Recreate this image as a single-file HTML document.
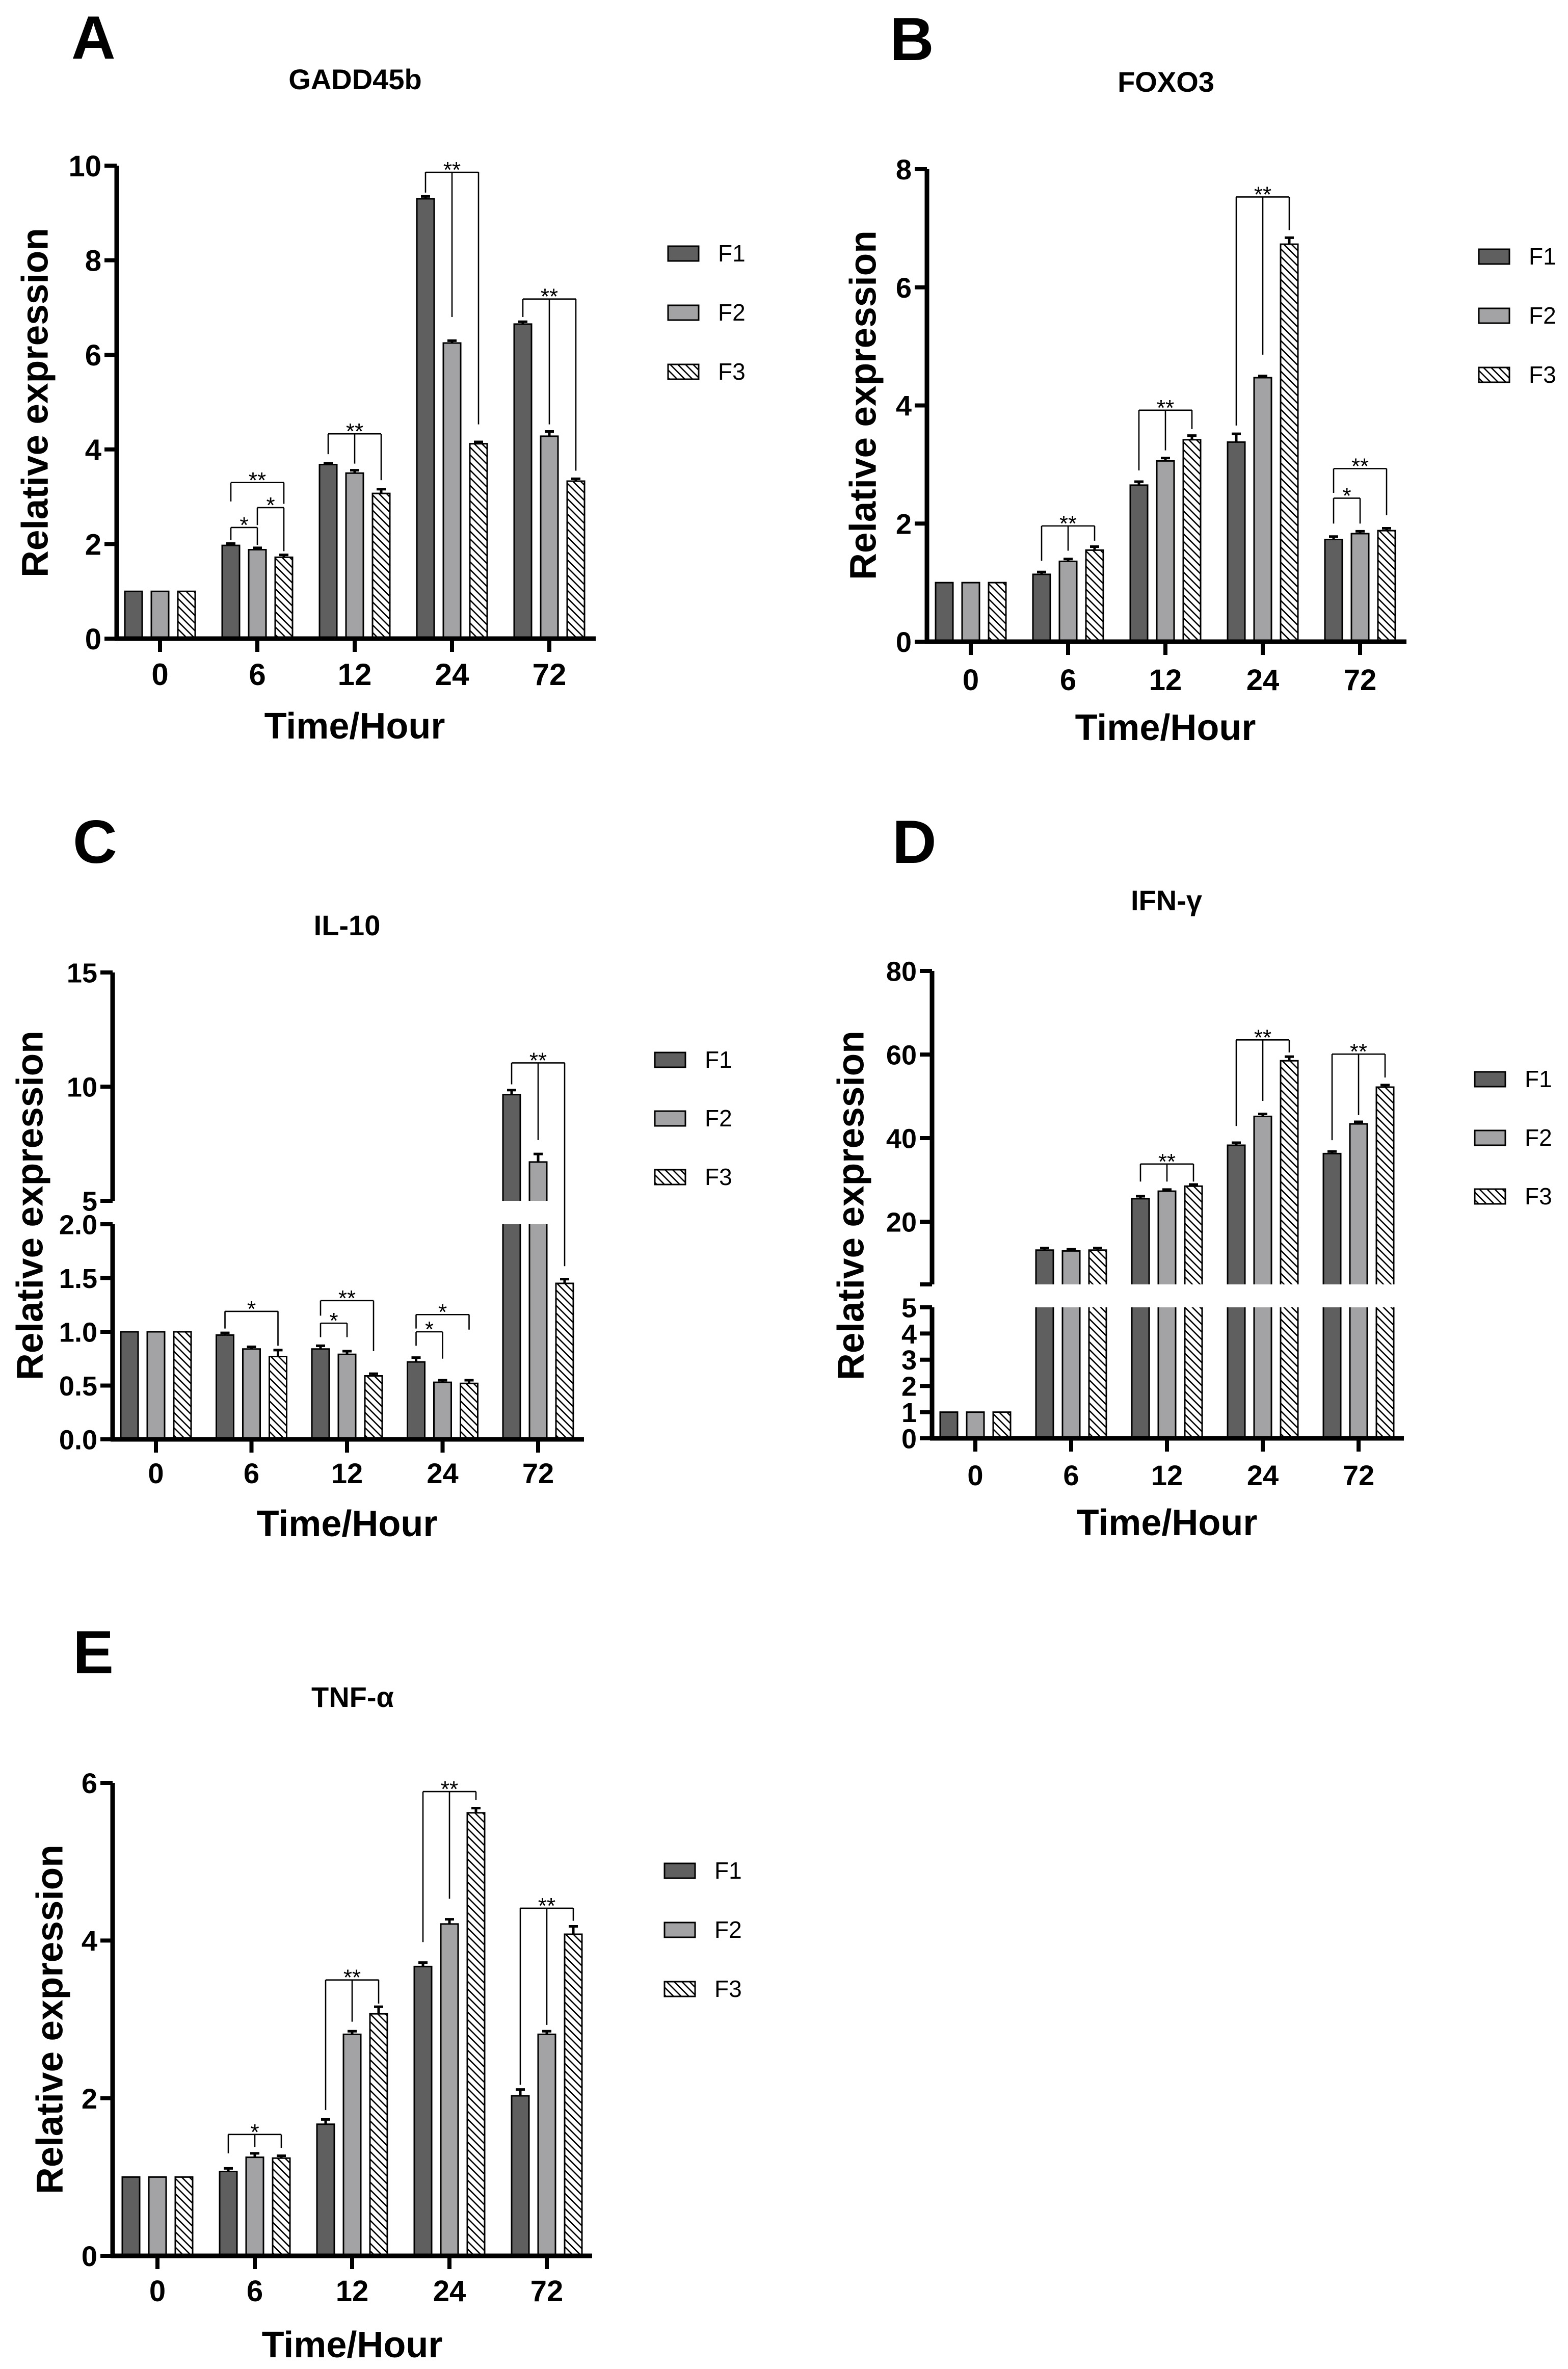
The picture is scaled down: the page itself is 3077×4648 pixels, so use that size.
<!DOCTYPE html>
<html><head><meta charset="utf-8"><style>
html,body{margin:0;padding:0;background:#fff;}
svg{display:block;font-family:"Liberation Sans",Arial,sans-serif;}
</style></head><body>
<svg id="fig" width="3077" height="4648" viewBox="0 0 3077 4648" xmlns="http://www.w3.org/2000/svg">
<defs>
<pattern id="hatch" patternUnits="userSpaceOnUse" width="15" height="15">
<path d="M0,0 L15,15 M-7.5,7.5 L7.5,22.5 M7.5,-7.5 L22.5,7.5" stroke="#000" stroke-width="2.6"/>
</pattern>
</defs>
</svg>
<script>
const cats = ['0','6','12','24','72'];
const series = ['F1','F2','F3'];
// Panel A GADD45b
const aF1 = [1, 1.97, 3.68, 9.30, 6.65];
const aF2 = [1, 1.88, 3.50, 6.25, 4.28];
const aF3 = [1, 1.72, 3.07, 4.12, 3.33];
const aErr1 = [0, 0.04, 0.03, 0.05, 0.05];
const aErr2 = [0, 0.04, 0.06, 0.05, 0.10];
const aErr3 = [0, 0.05, 0.09, 0.04, 0.05];
const aTicks = [0, 2, 4, 6, 8, 10];
// Panel B FOXO3
const bF1 = [1, 1.14, 2.65, 3.38, 1.73];
const bF2 = [1, 1.36, 3.06, 4.47, 1.83];
const bF3 = [1, 1.55, 3.42, 6.73, 1.88];
const bErr1 = [0, 0.04, 0.06, 0.14, 0.05];
const bErr2 = [0, 0.04, 0.05, 0.03, 0.04];
const bErr3 = [0, 0.06, 0.07, 0.11, 0.04];
const bTicks = [0, 2, 4, 6, 8];
// Panel C IL-10
const cF1 = [1, 0.97, 0.84, 0.72, 9.65];
const cF2 = [1, 0.84, 0.79, 0.53, 6.70];
const cF3 = [1, 0.77, 0.59, 0.52, 1.45];
const cErr1 = [0, 0.02, 0.03, 0.04, 0.2];
const cErr2 = [0, 0.02, 0.03, 0.02, 0.35];
const cErr3 = [0, 0.06, 0.02, 0.03, 0.04];
const cLowTicks = [0, 0.5, 1, 1.5, 2];
const cLowLabels = ['0.0','0.5','1.0','1.5','2.0'];
const cUpTicks = [5, 10, 15];
// Panel D IFN-γ
const dF1 = [1, 13.2, 25.5, 38.3, 36.3];
const dF2 = [1, 13.0, 27.3, 45.2, 43.4];
const dF3 = [1, 13.2, 28.5, 58.5, 52.2];
const dErr1 = [0, 0.5, 0.6, 0.6, 0.5];
const dErr2 = [0, 0.4, 0.4, 0.6, 0.5];
const dErr3 = [0, 0.5, 0.4, 1.0, 0.5];
const dLowTicks = [0, 1, 2, 3, 4, 5];
const dUpTicks = [20, 40, 60, 80];
// Panel E TNF-α
const eF1 = [1, 1.07, 1.67, 3.67, 2.03];
const eF2 = [1, 1.25, 2.81, 4.21, 2.81];
const eF3 = [1, 1.24, 3.07, 5.62, 4.08];
const eErr1 = [0, 0.04, 0.06, 0.05, 0.08];
const eErr2 = [0, 0.05, 0.04, 0.06, 0.04];
const eErr3 = [0, 0.03, 0.09, 0.06, 0.10];
const eTicks = [0, 2, 4, 6];
// significance brackets: [category, lineValue, label, legs [[series, bottomValue]...]]
const aSig = [[1,3.3,'**',[[0,2.9],[2,2.85]]],[1,2.35,'*',[[0,2.08],[1,1.98]]],[1,2.77,'*',[[1,2.4],[2,1.85]]],[2,4.33,'**',[[0,3.9],[1,3.7],[2,3.35]]],[3,9.86,'**',[[0,9.43],[1,6.8],[2,4.53]]],[4,7.18,'**',[[0,6.8],[1,4.53],[2,3.55]]]];
const bSig = [[1,1.96,'**',[[0,1.37],[1,1.54],[2,1.71]]],[2,3.92,'**',[[0,2.9],[1,3.24],[2,3.6]]],[3,7.53,'**',[[0,3.66],[1,4.86],[2,6.97]]],[4,2.93,'**',[[0,2.52],[2,2.14]]],[4,2.43,'*',[[0,2.0],[1,2.0]]]];
const cSig = [[1,1.19,'*',[[0,1.03],[2,0.87]]],[2,1.29,'**',[[0,1.15],[2,0.82]]],[2,1.08,'*',[[0,0.95],[1,0.95]]],[3,1.16,'*',[[0,1.03],[2,1.02]]],[3,1.0,'*',[[0,0.87],[1,0.75]]],[4,11.04,'**',[[0,10.1],[1,7.66],[2,1.61]]]];
const dSig = [[2,33.8,'**',[[0,29.6],[1,29.6],[2,29.6]]],[3,63.5,'**',[[0,42.9],[1,48.9],[2,60.5]]],[4,60.1,'**',[[0,39.5],[1,45.5],[2,54.5]]]];
const eSig = [[1,1.54,'*',[[0,1.3],[1,1.38],[2,1.37]]],[2,3.5,'**',[[0,1.85],[1,2.97],[2,3.2]]],[3,5.89,'**',[[0,3.98],[1,4.53],[2,5.78]]],[4,4.41,'**',[[0,2.17],[1,2.93],[2,4.25]]]];

const NS = 'http://www.w3.org/2000/svg';
const svg = document.getElementById('fig');
function mk(tag, attrs, parent, txt){
  const e = document.createElementNS(NS, tag);
  for (const k in attrs) e.setAttribute(k, attrs[k]);
  if (txt !== undefined) e.textContent = txt;
  parent.appendChild(e);
  return e;
}
const fills = ['#5f5f5f', '#a3a3a6', 'url(#hatch)'];

function drawPanel(c){
  const g = mk('g', {}, svg);
  
  
  const y = c.brk
    ? (v => v <= c.lowMax ? c.y0 - v*(c.y0 - c.lowTopPx)/c.lowMax : c.upBotPx - (v - c.upMin)*(c.upBotPx - c.upTopPx)/(c.upMax - c.upMin))
    : (v => c.y0 - v*(c.y0 - c.yTop)/c.max);
  const x = i => c.cat0 + i*c.step;
  const off = [-52, 0, 52], bw = 34;
  let t = mk('text', {x:c.letterX, y:c.letterY, 'font-size':120, 'font-weight':'bold'}, g, c.letter);
  
  
  t = mk('text', {x:c.titleX, y:c.titleY, 'font-size':56, 'font-weight':'bold', 'text-anchor':'middle'}, g, c.title);
  
  
  t = mk('text', {x:0, y:0, 'font-size':73, 'font-weight':'bold', 'text-anchor':'middle', 'dominant-baseline':'central', transform:`translate(${c.yTitleX},${c.yTitleY}) rotate(-90)`}, g, 'Relative expression');
  
  
  t = mk('text', {x:c.cat0 + 2*c.step, y:c.xTitleY, 'font-size':72, 'font-weight':'bold', 'text-anchor':'middle'}, g, 'Time/Hour');
  
  
  const vals = [c.s1, c.s2, c.s3], errs = [c.e1, c.e2, c.e3];
  for (let s = 0; s < 3; s++){
    for (let i = 0; i < cats.length; i++){
      const v = vals[s][i], cx = x(i) + off[s];
      const segs = [];
      if (c.brk){
        if (v > c.lowMax){
          segs.push([y(0), y(c.lowMax), false]);
          if (v > c.upMin) segs.push([c.upBotPx, y(v), true]);
        } else segs.push([y(0), y(v), true]);
      } else segs.push([y(0), y(v), true]);
      segs.forEach(sg => {
        const L = cx - bw/2, R = cx + bw/2;
        const r = mk('rect', {x:L, y:sg[1], width:bw, height:sg[0]-sg[1], fill:fills[s], stroke:'none'}, g);
        
        
        const d = sg[2]
          ? `M${L},${sg[0]} L${L},${sg[1]} L${R},${sg[1]} L${R},${sg[0]}`
          : `M${L},${sg[0]} L${L},${sg[1]} M${R},${sg[1]} L${R},${sg[0]}`;
        mk('path', {d:d, fill:'none', stroke:'#000', 'stroke-width':3}, g);
      });
      const er = errs[s][i];
      if (er > 0){
        const ty = y(v + er);
        const el = mk('path', {d:`M${cx},${y(v)} L${cx},${ty} M${cx-9},${ty} L${cx+9},${ty}`, stroke:'#000', 'stroke-width':5, fill:'none'}, g);
        
        
      }
    }
  }
  const ax = c.ax;
  if (c.brk){
    let p = mk('line', {x1:ax, y1:c.y0+4, x2:ax, y2:c.lowTopPx, stroke:'#000', 'stroke-width':9}, g);
    
    
    p = mk('line', {x1:ax, y1:c.upBotPx, x2:ax, y2:c.upTopPx, stroke:'#000', 'stroke-width':9}, g);
    
    
  } else {
    const p = mk('line', {x1:ax, y1:c.y0+4, x2:ax, y2:c.yTop, stroke:'#000', 'stroke-width':9}, g);
    
    
  }
  let xl = mk('line', {x1:ax-4, y1:c.y0, x2:c.xEnd, y2:c.y0, stroke:'#000', 'stroke-width':9}, g);
  
  
  const yt = (val, lab) => {
    const py = y(val);
    mk('line', {x1:ax-24, y1:py, x2:ax, y2:py, stroke:'#000', 'stroke-width':8}, g);
    if (lab !== null){
      const tl = mk('text', {x:ax-30, y:py, dy:'0.36em', 'font-size':c.fs, 'font-weight':'bold', 'text-anchor':'end'}, g, lab);
      
      
    }
  };
  if (c.brk){
    c.lowTicks.forEach((v, k) => yt(v, c.lowLabels ? c.lowLabels[k] : String(v)));
    c.upTicks.forEach(v => yt(v, String(v)));
    if (c.upBotTick) { const py = c.upBotPx; mk('line', {x1:ax-24, y1:py, x2:ax, y2:py, stroke:'#000', 'stroke-width':8}, g); }
  } else c.ticks.forEach(v => yt(v, String(v)));
  cats.forEach((cl, i) => {
    mk('line', {x1:x(i), y1:c.y0, x2:x(i), y2:c.y0+26, stroke:'#000', 'stroke-width':8}, g);
    const tl = mk('text', {x:x(i), y:c.catY, 'font-size':c.fs+2, 'font-weight':'bold', 'text-anchor':'middle'}, g, cl);
    
    
  });
  c.sig.forEach(sg => {
    const i = sg[0], ly = y(sg[1]);
    const xs = sg[3].map(l => x(i) + off[l[0]]);
    let d = `M${Math.min(...xs)},${ly} L${Math.max(...xs)},${ly}`;
    sg[3].forEach((l, k) => { d += ` M${xs[k]},${ly} L${xs[k]},${y(l[1])}`; });
    const p = mk('path', {d:d, stroke:'#000', 'stroke-width':2.6, fill:'none'}, g);
    
    
    const tx = (Math.min(...xs) + Math.max(...xs))/2;
    const st = mk('text', {x:tx, y:ly+10, 'font-size':44, 'text-anchor':'middle'}, g, sg[2]);
    
    
  });
  series.forEach((s, k) => {
    const cy = c.legY + k*c.legStep;
    const r = mk('rect', {x:c.legX, y:cy-14, width:60, height:29, fill:fills[k], stroke:'#000', 'stroke-width':3}, g);
    
    
    const lt = mk('text', {x:c.legX+98, y:cy+16, 'font-size':46}, g, s);
    
    
  });
}

drawPanel({key:'a', letter:'A', letterX:140, letterY:115, title:'GADD45b', titleX:697, titleY:175,
  yTitleX:69, yTitleY:790, xTitleY:1449, catY:1344, fs:58,
  ax:229, y0:1253, yTop:325, max:10, ticks:aTicks, xEnd:1169, cat0:314, step:191,
  s1:aF1, s2:aF2, s3:aF3, e1:aErr1, e2:aErr2, e3:aErr3, sig:aSig, legX:1311, legY:497, legStep:116});
drawPanel({key:'b', letter:'B', letterX:1746, letterY:118, title:'FOXO3', titleX:2288, titleY:180,
  yTitleX:1694, yTitleY:795, xTitleY:1452, catY:1354, fs:56,
  ax:1819, y0:1259, yTop:332, max:8, ticks:bTicks, xEnd:2760, cat0:1905, step:191,
  s1:bF1, s2:bF2, s3:bF3, e1:bErr1, e2:bErr2, e3:bErr3, sig:bSig, legX:2902, legY:503, legStep:116});
drawPanel({key:'c', letter:'C', letterX:143, letterY:1693, title:'IL-10', titleX:681, titleY:1835,
  yTitleX:59, yTitleY:2365, xTitleY:3014, catY:2910, fs:54,
  ax:221, y0:2824, brk:true, lowMax:2, lowTopPx:2402, upMin:5, upBotPx:2356, upMax:15, upTopPx:1908,
  lowTicks:cLowTicks, lowLabels:cLowLabels, upTicks:cUpTicks, xEnd:1146, cat0:306, step:187.5,
  s1:cF1, s2:cF2, s3:cF3, e1:cErr1, e2:cErr2, e3:cErr3, sig:cSig, legX:1285, legY:2079, legStep:115});
drawPanel({key:'d', letter:'D', letterX:1751, letterY:1693, title:'IFN-γ', titleX:2289, titleY:1786,
  yTitleX:1670, yTitleY:2365, xTitleY:3012, catY:2914, fs:54,
  ax:1829, y0:2822, brk:true, lowMax:5, lowTopPx:2565, upMin:5, upBotPx:2520, upMax:80, upTopPx:1905, upBotTick:true,
  lowTicks:dLowTicks, upTicks:dUpTicks, xEnd:2755, cat0:1914, step:188,
  s1:dF1, s2:dF2, s3:dF3, e1:dErr1, e2:dErr2, e3:dErr3, sig:dSig, legX:2894, legY:2117, legStep:115});
drawPanel({key:'e', letter:'E', letterX:143, letterY:3283, title:'TNF-α', titleX:692, titleY:3349,
  yTitleX:98, yTitleY:3962, xTitleY:4625, catY:4515, fs:56,
  ax:221, y0:4426, yTop:3498, max:6, ticks:eTicks, xEnd:1162, cat0:309, step:191,
  s1:eF1, s2:eF2, s3:eF3, e1:eErr1, e2:eErr2, e3:eErr3, sig:eSig, legX:1304, legY:3670, legStep:116});
</script>
</body></html>
